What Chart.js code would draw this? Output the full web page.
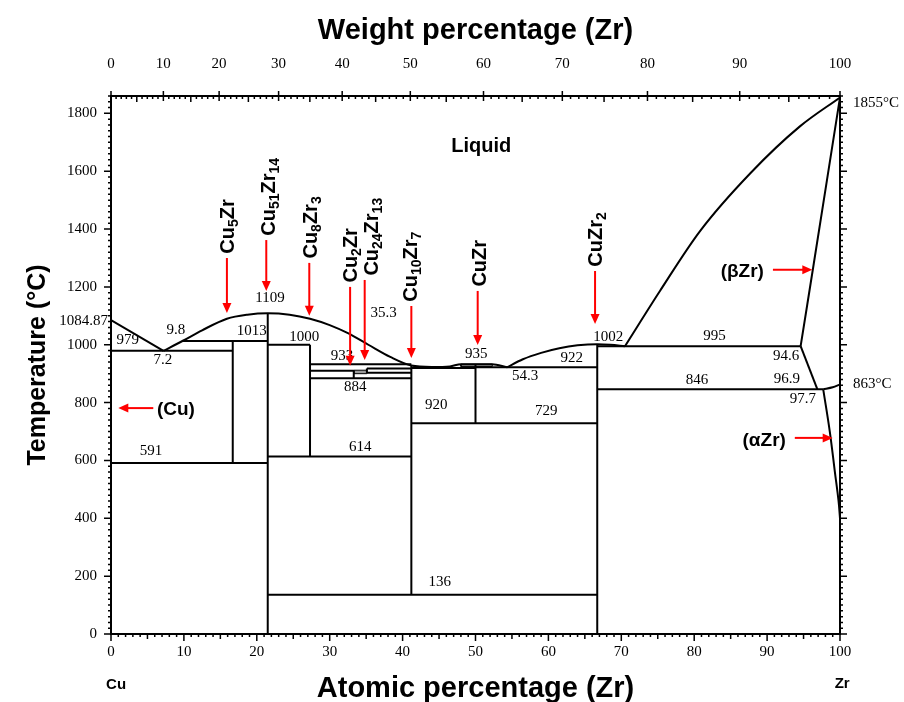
<!DOCTYPE html>
<html>
<head>
<meta charset="utf-8">
<script src="https://cdn.jsdelivr.net/npm/chart.js@4.4.1/dist/chart.umd.min.js"></script>
<style>
  html, body { margin: 0; padding: 0; background: #fff; }
  canvas { display: block; }
</style>
</head>
<body>
<canvas id="phaseChart" width="904" height="702"></canvas>
<script>
// Cu-Zr phase diagram, composition in at.% Zr, temperature in °C

const atomicTicks = [0, 10, 20, 30, 40, 50, 60, 70, 80, 90, 100];
const weightTicks = [0, 10, 20, 30, 40, 50, 60, 70, 80, 90, 100];
const tempTicks = [0, 200, 400, 600, 800, 1000, 1200, 1400, 1600, 1800];

// liquidus branches
const liquidusCu = [[0, 1084.87], [7.2, 979]];
const liquidusLeft = [[7.2, 979], [9.8, 1013], [12.5, 1050], [15.9, 1090], [18.7, 1104], [21.5, 1109],
  [24.5, 1104], [27.3, 1090], [30, 1068], [32.5, 1040], [35.3, 1000], [38.3, 958], [41.2, 928],
  [44, 923], [46.5, 925], [48, 933], [52.3, 933], [54.3, 922]];
const liquidusCuZr2 = [[54.3, 922], [56.5, 950], [59, 972], [61.5, 988], [64, 998], [66.7, 1002],
  [68.5, 1000], [70.5, 995]];
const liquidusZr = [[70.5, 995], [75.3, 1186], [80.8, 1393], [87.7, 1593], [94.5, 1755], [100, 1855]];

// (βZr) / (αZr) boundaries
const betaSolvus = [[100, 1855], [96.4, 1280], [94.6, 995]];
const betaLower = [[94.6, 995], [96.9, 846]];
const alphaBeta = [[97.7, 846], [99, 853], [100, 863]];
const alphaSolvus = [[97.7, 846], [98.6, 700], [99.3, 560], [99.8, 460], [100, 400]];

// invariant lines
const invariantT = [979, 1013, 1000, 933, 910, 918, 903, 884, 920, 922, 995, 846, 729, 614, 591, 136];
const invariantFrom = [0, 9.8, 21.5, 27.3, 27.3, 35.1, 35.1, 27.3, 41.2, 50, 66.7, 66.7, 41.2, 21.5, 0, 21.5];
const invariantTo = [16.7, 21.5, 27.3, 41.2, 33.3, 41.2, 41.2, 41.2, 50, 66.7, 94.6, 97.7, 66.7, 41.2, 21.5, 66.7];

// intermetallic compounds
const compoundNames = ['Cu5Zr', 'Cu51Zr14', 'Cu8Zr3', 'Cu2Zr', 'Cu24Zr13', 'Cu10Zr7', 'CuZr', 'CuZr2'];
const compoundX = [16.7, 21.5, 27.3, 33.3, 35.1, 41.2, 50, 66.7];
const compoundTop = [1013, 1109, 1000, 910, 918, 928, 933, 1002];
const compoundBottom = [591, 0, 614, 884, 903, 136, 729, 0];

// narrow shaded bands
const bandFrom = [33.3, 48];
const bandTo = [35.1, 52.3];
const bandLow = [900, 925];
const bandHigh = [912, 933];

// annotations
const valueLabels = ['979', '9.8', '7.2', '1013', '1109', '1000', '35.3', '933', '884', '920', '935', '54.3',
  '922', '1002', '729', '614', '591', '136', '995', '94.6', '96.9', '846', '97.7'];
const valueAt = [[2.3, 1017], [8.9, 1051], [7.1, 947], [19.3, 1048], [21.8, 1162], [26.5, 1027], [37.4, 1110],
  [31.7, 961], [33.5, 854], [44.6, 792], [50.1, 968], [56.8, 892], [63.2, 954], [68.2, 1027], [59.7, 771],
  [34.2, 647], [5.5, 633], [45.1, 180], [82.8, 1030], [92.6, 961], [92.7, 882], [80.4, 878], [94.9, 813]];
const phaseLabels = ['Liquid', '(βZr)', '(αZr)', '(Cu)'];
const phaseAt = [[50.8, 1687], [86.6, 1252], [89.6, 667], [8.9, 775]];
const compoundLabelAt = [[15.9, 1315], [21.5, 1377], [27.3, 1298], [32.8, 1215], [35.7, 1239], [41.0, 1149], [50.5, 1201], [66.4, 1270]];
const compoundArrowX = [15.9, 21.3, 27.2, 32.8, 34.8, 41.2, 50.3, 66.4];
const compoundArrowFrom = [1300, 1362, 1283, 1200, 1224, 1134, 1186, 1255];
const compoundArrowTo = [1110, 1186, 1100, 927, 947, 954, 999, 1072];
// horizontal arrows: [from x, to x, temperature]
const sideArrows = [[90.8, 96.2, 1259], [93.8, 99.0, 678], [5.8, 1.0, 781]];

const SERIF = '"Liberation Serif", "Times New Roman", serif';
const SANS = '"Liberation Sans", Arial, sans-serif';

function wtToAt(w) {
    const zr = w / 91.224, cu = (100 - w) / 63.546;
    return 100 * zr / (zr + cu);
}

function line(points, extra) {
    return Object.assign({
        data: points.map(([x, y]) => ({ x, y })),
        showLine: true,
        borderColor: '#000',
        borderWidth: 2,
        pointRadius: 0,
        fill: false,
        tension: 0,
    }, extra);
}

const datasets = [
    line(liquidusCu),
    line(liquidusLeft, { cubicInterpolationMode: 'monotone' }),
    line(liquidusCuZr2, { cubicInterpolationMode: 'monotone' }),
    line(liquidusZr, { cubicInterpolationMode: 'monotone' }),
    line(betaSolvus, { tension: 0.3 }),
    line(betaLower),
    line(alphaBeta, { tension: 0.3 }),
    line(alphaSolvus, { tension: 0.4 }),
];
invariantT.forEach((t, i) => datasets.push(line([[invariantFrom[i], t], [invariantTo[i], t]])));
compoundX.forEach((x, i) => datasets.push(line([[x, compoundTop[i]], [x, compoundBottom[i]]])));
bandFrom.forEach((x, i) => datasets.push(line(
    [[x, bandLow[i]], [bandTo[i], bandLow[i]], [bandTo[i], bandHigh[i]], [x, bandHigh[i]], [x, bandLow[i]]],
    { borderWidth: 1, fill: 'shape', backgroundColor: '#9a9a9a' })));

function drawArrow(ctx, x0, y0, x1, y1) {
    const a = Math.atan2(y1 - y0, x1 - x0);
    ctx.strokeStyle = ctx.fillStyle = '#f00';
    ctx.lineWidth = 2;
    ctx.beginPath();
    ctx.moveTo(x0, y0);
    ctx.lineTo(x1 - 8 * Math.cos(a), y1 - 8 * Math.sin(a));
    ctx.stroke();
    ctx.beginPath();
    ctx.moveTo(x1, y1);
    ctx.lineTo(x1 - 10 * Math.cos(a) + 4.5 * Math.sin(a), y1 - 10 * Math.sin(a) - 4.5 * Math.cos(a));
    ctx.lineTo(x1 - 10 * Math.cos(a) - 4.5 * Math.sin(a), y1 - 10 * Math.sin(a) + 4.5 * Math.cos(a));
    ctx.closePath();
    ctx.fill();
}

function drawCompound(ctx, name, cx, by) {
    ctx.save();
    ctx.translate(cx, by);
    ctx.rotate(-Math.PI / 2);
    ctx.textAlign = 'left';
    ctx.textBaseline = 'alphabetic';
    ctx.fillStyle = '#000';
    let pos = 0;
    name.match(/\d+|\D+/g).forEach(part => {
        const sub = /\d/.test(part);
        ctx.font = sub ? `bold 14px ${SANS}` : `bold 20px ${SANS}`;
        ctx.fillText(part, pos, sub ? 11 : 7);
        pos += ctx.measureText(part).width;
    });
    ctx.restore();
}

const decorations = {
    id: 'decorations',
    afterDraw(chart) {
        const { ctx, chartArea: area } = chart;
        const sx = chart.scales.x, sy = chart.scales.y;
        const X = v => sx.getPixelForValue(v), Y = v => sy.getPixelForValue(v);
        ctx.save();

        // frame
        ctx.strokeStyle = '#000';
        ctx.lineWidth = 2;
        ctx.strokeRect(area.left, area.top, area.right - area.left, area.bottom - area.top);

        // tick marks
        ctx.lineWidth = 1.5;
        ctx.beginPath();
        for (let v = 0; v <= 100; v++) {
            const len = v % 10 === 0 ? 7 : v % 5 === 0 ? 5 : 3;
            ctx.moveTo(X(v), area.bottom);
            ctx.lineTo(X(v), area.bottom + len);
            const p = X(wtToAt(v));
            if (v % 10 === 0) {
                ctx.moveTo(p, area.top - 5);
                ctx.lineTo(p, area.top + 5);
            } else {
                ctx.moveTo(p, area.top);
                ctx.lineTo(p, area.top + (v % 5 === 0 ? 6 : 3));
            }
        }
        for (let t = 0; t <= 1860; t += 20) {
            const len = t % 200 === 0 ? 7 : 3;
            ctx.moveTo(area.left, Y(t));
            ctx.lineTo(area.left - len, Y(t));
            ctx.moveTo(area.right, Y(t));
            ctx.lineTo(area.right + len, Y(t));
        }
        ctx.stroke();

        // numeric annotations
        ctx.fillStyle = '#000';
        ctx.font = `15px ${SERIF}`;
        ctx.textAlign = 'center';
        ctx.textBaseline = 'middle';
        valueLabels.forEach((txt, i) => ctx.fillText(txt, X(valueAt[i][0]), Y(valueAt[i][1])));
        ctx.textAlign = 'right';
        ctx.fillText('1084.87', X(-0.4), Y(1082));
        ctx.textAlign = 'left';
        ctx.fillText('1855°C', X(101.8), Y(1836));
        ctx.fillText('863°C', X(101.8), Y(864));

        // phase fields
        ctx.textAlign = 'center';
        phaseLabels.forEach((txt, i) => {
            ctx.font = `bold ${i === 0 ? 20 : 19}px ${SANS}`;
            ctx.fillText(txt, X(phaseAt[i][0]), Y(phaseAt[i][1]));
        });
        ctx.font = `bold 15px ${SANS}`;
        ctx.fillText('Cu', X(0.7), Y(-176));
        ctx.fillText('Zr', X(100.3), Y(-173));

        // compound names with arrows
        compoundNames.forEach((name, i) => {
            drawCompound(ctx, name, X(compoundLabelAt[i][0]), Y(compoundLabelAt[i][1]));
            const x = X(compoundArrowX[i]);
            drawArrow(ctx, x, Y(compoundArrowFrom[i]), x, Y(compoundArrowTo[i]));
        });
        sideArrows.forEach(([x0, x1, t]) => drawArrow(ctx, X(x0), Y(t), X(x1), Y(t)));

        ctx.restore();
    }
};

const titleFont = { family: SANS, size: 29, weight: 'bold' };
const tickFont = { family: SERIF, size: 15 };

new Chart(document.getElementById('phaseChart'), {
    type: 'scatter',
    data: { datasets },
    options: {
        responsive: false,
        animation: false,
        layout: { padding: { right: 64 } },
        plugins: { legend: { display: false }, tooltip: { enabled: false } },
        scales: {
            x: {
                type: 'linear', position: 'bottom', min: 0, max: 100,
                afterBuildTicks: s => { s.ticks = atomicTicks.map(value => ({ value })); },
                afterFit: s => { s.height = 68; },
                ticks: { color: '#000', font: tickFont, padding: 9, maxRotation: 0, autoSkip: false },
                grid: { drawOnChartArea: false, drawTicks: false },
                border: { display: false },
                title: { display: true, text: 'Atomic percentage (Zr)', color: '#000', font: titleFont, padding: { top: 0, bottom: -4 } },
            },
            x2: {
                type: 'linear', position: 'top', min: 0, max: 100,
                afterBuildTicks: s => { s.ticks = weightTicks.map(w => ({ value: wtToAt(w) })); },
                afterFit: s => { s.height = 96; },
                ticks: { color: '#000', font: tickFont, padding: 23, maxRotation: 0, autoSkip: false,
                    callback: (v, i) => weightTicks[i] },
                grid: { drawOnChartArea: false, drawTicks: false },
                border: { display: false },
                title: { display: true, text: 'Weight percentage (Zr)', color: '#000', font: titleFont, padding: { top: 14, bottom: 0 } },
            },
            y: {
                type: 'linear', position: 'left', min: 0, max: 1860,
                afterBuildTicks: s => { s.ticks = tempTicks.map(value => ({ value })); },
                afterFit: s => { s.width = 111; },
                ticks: { color: '#000', font: tickFont, padding: 14, callback: v => String(v) },
                grid: { drawOnChartArea: false, drawTicks: false },
                border: { display: false },
                title: { display: true, text: 'Temperature (°C)', color: '#000', font: { family: SANS, size: 25, weight: 'bold' }, padding: { top: 23, bottom: 0 } },
            },
        },
    },
    plugins: [decorations],
});
</script>
</body>
</html>
